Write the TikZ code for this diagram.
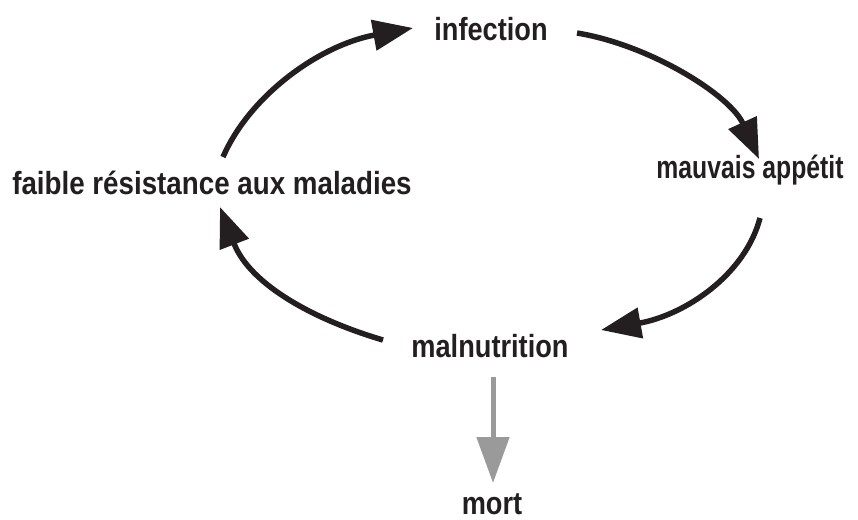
\documentclass[tikz,border=0pt]{standalone}
\usepackage{fontspec}
\setmainfont[FakeStretch=0.85]{Liberation Sans}
\usetikzlibrary{arrows.meta}
\definecolor{txt}{HTML}{231F20}
\definecolor{greyarrow}{HTML}{9A9A9A}
\tikzset{
  lbl/.style={font=\fontsize{32}{33}\selectfont\bfseries, text=txt, anchor=base, inner sep=0pt},
  cyc/.style={line width=5.5pt, draw=txt, -{Triangle[length=40pt,width=30pt]}},
  fate/.style={line width=5pt, draw=greyarrow, -{Triangle[length=46pt,width=32pt]}}
}
\begin{document}
\begin{tikzpicture}[x=1pt,y=-1pt]
\useasboundingbox (0,0) rectangle (858,519);
\node[lbl] (inf) at (491,41) {infection};
\node[lbl] (app) at (750,178) {\scalebox{0.91}[1]{mauvais appétit}};
\node[lbl] (fai) at (212,194) {\scalebox{1.02}[1]{faible résistance aux maladies}};
\node[lbl] (mal) at (490,357) {malnutrition};
\node[lbl] (mor) at (492,514) {mort};
\coordinate (a1s) at (223,157);
\coordinate (a1e) at (413,28);
\coordinate (a2s) at (577,33);
\coordinate (a2e) at (759,159);
\coordinate (a3s) at (760,218);
\coordinate (a3e) at (601,330);
\coordinate (a4s) at (383,340);
\coordinate (a4e) at (220,207);
\coordinate (a5s) at (493,377);
\coordinate (a5e) at (493,483);
\draw[cyc] (a1s) .. controls (250,95) and (320,45) .. (a1e);
\draw[cyc] (a2s) .. controls (650,45) and (730,95) .. (a2e);
\draw[cyc] (a3s) .. controls (745,275) and (685,315) .. (a3e);
\draw[cyc] (a4s) .. controls (315,320) and (250,285) .. (a4e);
\draw[fate] (a5s) -- (a5e);
\end{tikzpicture}
\end{document}
